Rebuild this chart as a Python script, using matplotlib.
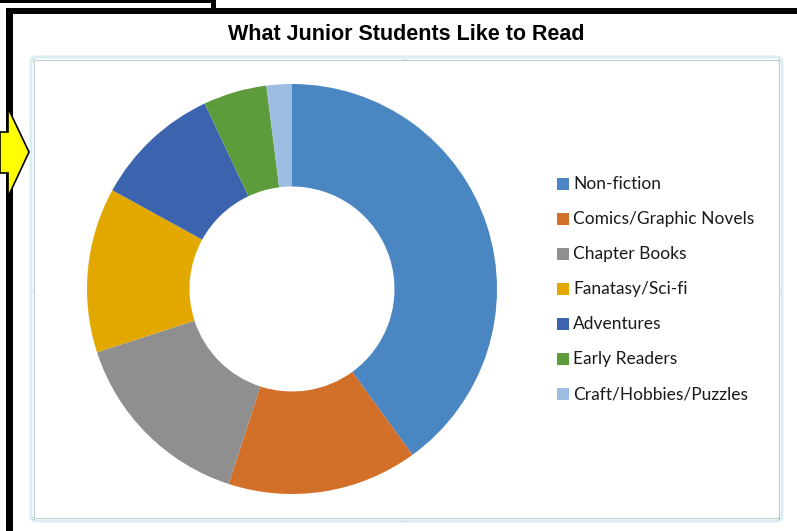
import matplotlib.pyplot as plt
from matplotlib.patches import Rectangle, FancyBboxPatch, Polygon

# data (percent of students)
categories = ['Non-fiction', 'Comics/Graphic Novels', 'Chapter Books', 'Fanatasy/Sci-fi',
              'Adventures', 'Early Readers', 'Craft/Hobbies/Puzzles']
shares = [40, 15, 15, 13, 10, 5, 2]
colors = ['#4A86C2', '#D2702A', '#8F8F8F', '#E3A800', '#3C64AE', '#5E9B3B', '#9DBDE2']

W, H = 797, 531
fig = plt.figure(figsize=(W / 100, H / 100), dpi=100)
fig.patch.set_facecolor('white')


def px(x, y):
    # pixel coords (top-left origin) -> figure fraction
    return x / W, 1 - y / H


def rect(x0, y0, x1, y1, **kw):
    (fx0, fy1), (fx1, fy0) = px(x0, y0), px(x1, y1)
    fig.patches.append(Rectangle((fx0, fy0), fx1 - fx0, fy1 - fy0,
                                 transform=fig.transFigure, **kw))


# black frame pieces of the screenshot
rect(0, 0, 213, 3, color='black', lw=0)
rect(211, 0, 216, 9, color='black', lw=0)
rect(6, 8, 797, 14, color='black', lw=0)
rect(6, 8, 13, 531, color='black', lw=0)

# yellow arrow on the left edge
arrow_px = [(0, 132), (8, 132), (8, 108), (29, 152), (8, 197), (8, 173), (0, 173)]
fig.patches.append(Polygon([px(x, y) for x, y in arrow_px], closed=True,
                           transform=fig.transFigure, facecolor='#FFFF00',
                           edgecolor='black', lw=1.2, zorder=5))

# chart area border (Excel selection frame)
(bx0, by1), (bx1, by0) = px(31, 57), px(782, 521)
fig.patches.append(FancyBboxPatch((bx0, by0), bx1 - bx0, by1 - by0,
                                  boxstyle='round,pad=0,rounding_size=0.008',
                                  transform=fig.transFigure, facecolor='none',
                                  edgecolor='#DCEEF2', lw=2.2))
(ix0, iy1), (ix1, iy0) = px(34, 60), px(779, 518)
fig.patches.append(Rectangle((ix0, iy0), ix1 - ix0, iy1 - iy0,
                             transform=fig.transFigure, facecolor='none',
                             edgecolor='#BCCACE', lw=0.7))

# handle dots
for hx, hy in [(405, 58), (405, 520), (32, 290), (780, 290),
               (33, 60), (779, 60), (33, 518), (779, 518)]:
    fx, fy = px(hx, hy)
    fig.text(fx, fy, '::' if hx in (33, 779) else ('....' if hy in (58, 520) else ':'),
             fontsize=4, color='#8A9AA0', ha='center', va='center')

fig.text(*px(406, 35), 'What Junior Students Like to Read', ha='center', va='center',
         fontsize=15.5, fontweight='bold', family='Liberation Sans', color='black')

# donut
cx, cy, r = 292, 289, 205
ax = fig.add_axes([(cx - r) / W, (H - cy - r) / H, 2 * r / W, 2 * r / H])
wedges, _ = ax.pie(shares, colors=colors, startangle=90, counterclock=False,
                   radius=1, wedgeprops=dict(width=0.5, linewidth=0))
ax.set_xlim(-1, 1)
ax.set_ylim(-1, 1)
ax.set_aspect('equal')
ax.axis('off')

# legend
for i, (lab, col) in enumerate(zip(categories, colors)):
    ly = 184 + i * 35
    rect(557, ly - 6, 569, ly + 6, color=col, lw=0)
    fig.text(*px(573, ly), lab, ha='left', va='center', fontsize=12.5,
             family='Lato', color='#1A1A1A')

fig.savefig('out.png', dpi=100)
